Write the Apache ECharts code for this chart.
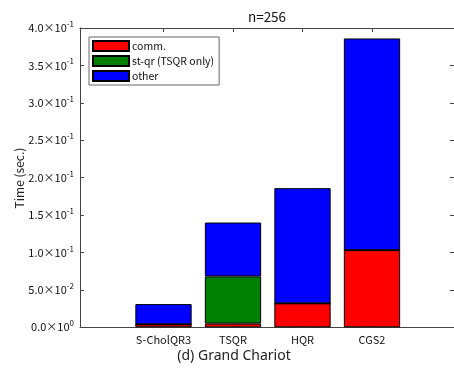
<!DOCTYPE html>
<html>
<head>
<meta charset="utf-8">
<script src="https://cdn.jsdelivr.net/npm/echarts@6/dist/echarts.min.js"></script>
<style>html,body{margin:0;padding:0;background:#fff}#c{width:454px;height:369px}</style>
</head>
<body>
<div id="c"></div>
<script>
const categories = ['S-CholQR3', 'TSQR', 'HQR', 'CGS2'];
const comm = [0.004, 0.005, 0.032, 0.103];
const stqr = [0, 0.063, 0, 0];
const other = [0.027, 0.072, 0.154, 0.283];
const yTicks = [0, 0.05, 0.1, 0.15, 0.2, 0.25, 0.3, 0.35, 0.4];
const yTickLabels = ['0.0×10|0', '5.0×10|-2', '1.0×10|-1', '1.5×10|-1', '2.0×10|-1', '2.5×10|-1', '3.0×10|-1', '3.5×10|-1', '4.0×10|-1'];

const FONT = '"Noto Sans CJK JP", "Noto Sans", sans-serif';
const AX = '#444';
const chart = echarts.init(document.getElementById('c'), null, {renderer: 'canvas'});

function yLabel(v) {
  let i = yTicks.findIndex(t => Math.abs(t - v) < 1e-9);
  if (i < 0) return '';
  const p = yTickLabels[i].split('|');
  return '{m|' + p[0] + '}{e|' + p[1] + '}';
}

const gTop = 28, gHeight = 299.3;
const barItem = c => ({color: c, borderColor: '#000', borderWidth: 1});
const line = {show: true, onZero: false, lineStyle: {color: AX, width: 1}};

chart.setOption({
  animation: false,
  textStyle: {fontFamily: FONT},
  grid: [
    {left: 80, top: gTop, width: 376, height: gHeight, containLabel: false},
    {left: 128.75, top: gTop, width: 278, height: gHeight, containLabel: false}
  ],
  xAxis: [
    {gridIndex: 0, type: 'value', min: 0, max: 1, position: 'bottom',
     axisLine: line, axisTick: {show: false}, axisLabel: {show: false}, splitLine: {show: false}},
    {gridIndex: 0, type: 'value', min: 0, max: 1, position: 'top',
     axisLine: line, axisTick: {show: false}, axisLabel: {show: false}, splitLine: {show: false}},
    {gridIndex: 1, type: 'category', data: categories, position: 'bottom', boundaryGap: true,
     axisLine: {show: false, onZero: false}, axisTick: {show: true, interval: 0, inside: true, alignWithLabel: true, length: 4, lineStyle: {color: AX}},
     axisLabel: {show: true, interval: 0, fontSize: 11, color: '#111', margin: 7, fontFamily: FONT}, splitLine: {show: false}},
    {gridIndex: 1, type: 'category', data: categories, position: 'top', boundaryGap: true,
     axisLine: {show: false, onZero: false}, axisTick: {show: true, interval: 0, inside: true, alignWithLabel: true, length: 4, lineStyle: {color: AX}},
     axisLabel: {show: false}, splitLine: {show: false}}
  ],
  yAxis: [
    {gridIndex: 0, type: 'value', min: 0, max: 0.4, interval: 0.05, position: 'left',
     axisLine: line,
     axisTick: {show: true, inside: true, length: 4, lineStyle: {color: AX}},
     axisLabel: {show: true, margin: 6, formatter: yLabel,
       rich: {m: {fontSize: 11, color: '#111', fontFamily: FONT, lineHeight: 14},
              e: {fontSize: 8, color: '#111', fontFamily: FONT, padding: [0, 0, 8, 0], lineHeight: 8}}},
     splitLine: {show: false}},
    {gridIndex: 0, type: 'value', min: 0, max: 0.4, interval: 0.05, position: 'right',
     axisLine: line,
     axisTick: {show: true, inside: true, length: 4, lineStyle: {color: AX}},
     axisLabel: {show: false}, splitLine: {show: false}},
    {gridIndex: 1, type: 'value', min: 0, max: 0.4, interval: 0.05, show: false, splitLine: {show: false}}
  ],
  legend: {
    orient: 'vertical', left: 89, top: 37,
    data: ['comm.', 'st-qr (TSQR only)', 'other'],
    itemWidth: 36, itemHeight: 10, itemGap: 3,
    padding: [3, 5, 3, 3],
    borderColor: '#666', borderWidth: 1, backgroundColor: '#fff',
    icon: 'rect',
    textStyle: {fontSize: 10.5, color: '#111', fontFamily: FONT, padding: [0, 0, 0, -2]}
  },
  series: [
    {name: 'comm.', type: 'bar', stack: 's', xAxisIndex: 2, yAxisIndex: 2, barWidth: '81%', data: comm, itemStyle: barItem('#ff0000')},
    {name: 'st-qr (TSQR only)', type: 'bar', stack: 's', xAxisIndex: 2, yAxisIndex: 2, barWidth: '81%', data: stqr, itemStyle: barItem('#008000')},
    {name: 'other', type: 'bar', stack: 's', xAxisIndex: 2, yAxisIndex: 2, barWidth: '81%', data: other, itemStyle: barItem('#0000ff')}
  ],
  graphic: [
    {type: 'text', style: {text: 'n=256', x: 267, y: 17, align: 'center', verticalAlign: 'middle', fontSize: 13.5, fill: '#111', fontFamily: FONT}},
    {type: 'text', style: {text: 'Time (sec.)', x: 0, y: 0, align: 'center', verticalAlign: 'middle', fontSize: 12, fill: '#222', fontFamily: FONT}, x: 19, y: 178, rotation: Math.PI / 2},
    {type: 'text', style: {text: '(d) Grand Chariot', x: 234, y: 356, align: 'center', verticalAlign: 'middle', fontSize: 14, fill: '#222', fontFamily: '"Noto Sans", sans-serif'}}
  ]
});
</script>
</body>
</html>
